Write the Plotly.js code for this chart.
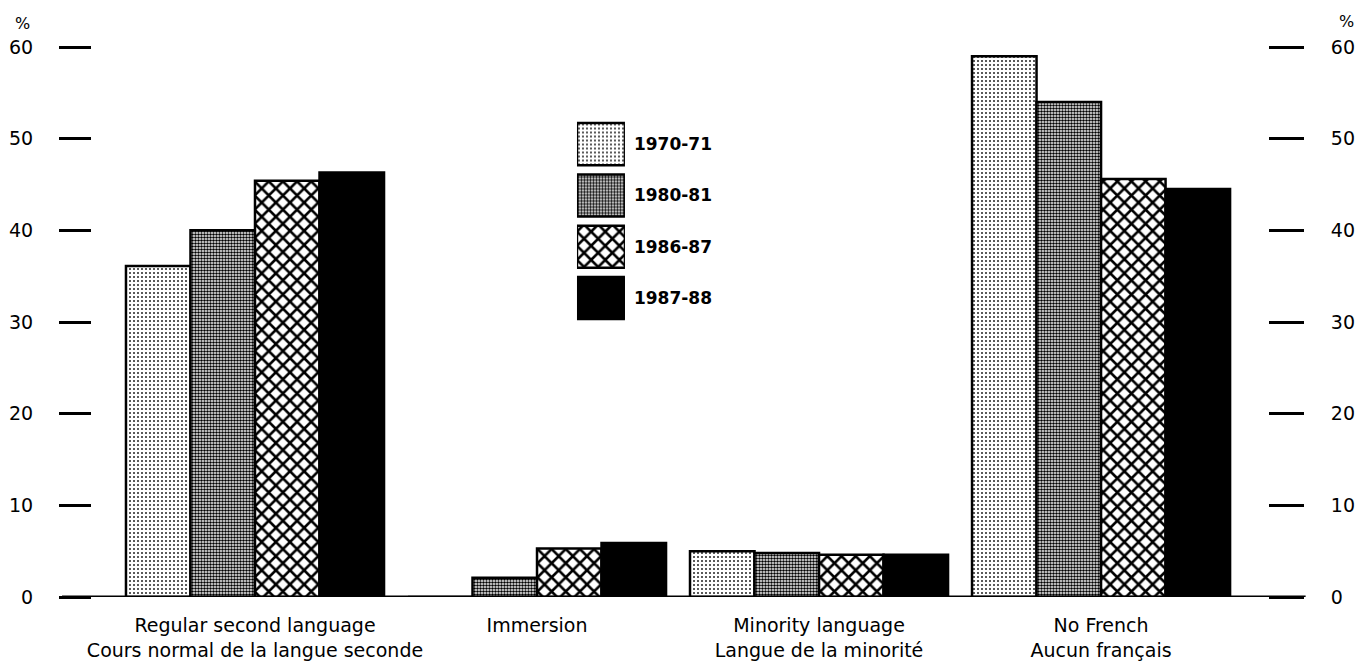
<!DOCTYPE html>
<html>
<head>
<meta charset="utf-8">
<script src="https://cdn.plot.ly/plotly-3.0.1.min.js"></script>
<style>html,body{margin:0;padding:0;background:#fff;}#chart{width:1363px;height:662px;}</style>
</head>
<body>
<div id="chart"></div>
<script>
// ---- data ----
var categories = [
  'Regular second language<br>Cours normal de la langue seconde',
  'Immersion',
  'Minority language<br>Langue de la minorité',
  'No French<br>Aucun français'
];
var seriesNames = ['1970-71', '1980-81', '1986-87', '1987-88'];
var v1970 = [36.1, 0, 5.0, 59.0];
var v1980 = [40.0, 2.1, 4.8, 54.0];
var v1986 = [45.4, 5.3, 4.6, 45.6];
var v1987 = [46.3, 5.9, 4.6, 44.5];
var yTicks = [0, 10, 20, 30, 40, 50, 60];

// ---- styles ----
var patterns = [
  {shape: '.', fgcolor: '#222', bgcolor: '#fff', size: 4, solidity: 0.2},
  {shape: '.', fgcolor: '#000', bgcolor: '#fff', size: 3, solidity: 0.55},
  {shape: 'x', fgcolor: '#000', bgcolor: '#fff', size: 10, solidity: 0.45},
  {shape: '', fgcolor: '#000', bgcolor: '#000', size: 8, solidity: 0.5}
];
var fills = ['#fff', '#fff', '#fff', '#000'];
var allValues = [v1970, v1980, v1986, v1987];

var traces = [];
for (var i = 0; i < seriesNames.length; i++) {
  traces.push({
    type: 'bar', name: seriesNames[i], x: categories, y: allValues[i],
    xaxis: 'x', yaxis: 'y',
    marker: {color: fills[i], pattern: patterns[i], line: {color: '#000', width: 2.5}},
    hoverinfo: 'skip', showlegend: false
  });
}
// legend boxes drawn as a small bar subplot
for (var j = 0; j < seriesNames.length; j++) {
  traces.push({
    type: 'bar', orientation: 'h', y: [seriesNames[j]], x: [1],
    xaxis: 'x3', yaxis: 'y3', width: 0.82, offset: -0.41,
    marker: {color: fills[j], pattern: patterns[j], line: {color: '#000', width: 2.5}},
    hoverinfo: 'skip', showlegend: false
  });
}

var tickFont = {family: 'DejaVu Sans', size: 19, color: '#000'};
var layout = {
  width: 1363, height: 662,
  margin: {l: 92, r: 95, t: 47, b: 65},
  paper_bgcolor: '#fff', plot_bgcolor: '#fff',
  barmode: 'group', bargap: 0.085, bargroupgap: 0,
  showlegend: false,
  xaxis: {
    type: 'category', range: [-0.578, 3.592], showgrid: false, zeroline: false,
    showline: false, ticks: '', tickfont: {family: 'DejaVu Sans', size: 19, color: '#000'},
    ticklabelstandoff: 15, fixedrange: true
  },
  yaxis: {
    range: [0, 60], tickvals: yTicks, ticktext: yTicks.map(String),
    showgrid: false, zeroline: false, showline: false,
    ticks: 'outside', ticklen: 32, tickwidth: 3, tickcolor: '#000',
    tickfont: tickFont, ticklabelstandoff: 22, fixedrange: true
  },
  yaxis2: {
    range: [0, 60], overlaying: 'y', side: 'right', anchor: 'x',
    tickvals: yTicks, ticktext: yTicks.map(String),
    showgrid: false, zeroline: false, showline: false,
    ticks: 'outside', ticklen: 35, tickwidth: 3, tickcolor: '#000',
    tickfont: tickFont, ticklabelstandoff: 23, fixedrange: true
  },
  xaxis3: {domain: [0.4124, 0.4532], anchor: 'y3', range: [0, 1], visible: false, fixedrange: true},
  yaxis3: {
    domain: [0.497, 0.870], anchor: 'x3', side: 'right', type: 'category',
    autorange: 'reversed', showgrid: false, zeroline: false, showline: false, ticks: '',
    tickfont: {family: 'DejaVu Sans', size: 17, color: '#000', weight: 'bold'},
    ticklabelstandoff: 8, fixedrange: true
  },
  shapes: [
    {type: 'line', xref: 'paper', yref: 'y', x0: -0.0255, x1: 1.032, y0: 0, y1: 0,
     line: {color: '#000', width: 3}}
  ],
  annotations: [
    {text: '%', xref: 'paper', yref: 'paper', x: -0.0587, y: 1.043, xanchor: 'center', yanchor: 'middle',
     showarrow: false, font: {family: 'DejaVu Sans', size: 16, color: '#000'}},
    {text: '%', xref: 'paper', yref: 'paper', x: 1.067, y: 1.047, xanchor: 'center', yanchor: 'middle',
     showarrow: false, font: {family: 'DejaVu Sans', size: 16, color: '#000'}}
  ]
};
// dummy trace to make the right axis exist
traces.push({type: 'scatter', x: [categories[0]], y: [null], xaxis: 'x', yaxis: 'y2',
  mode: 'markers', hoverinfo: 'skip', showlegend: false});

Plotly.newPlot('chart', traces, layout, {displayModeBar: false, staticPlot: true});
</script>
</body>
</html>
